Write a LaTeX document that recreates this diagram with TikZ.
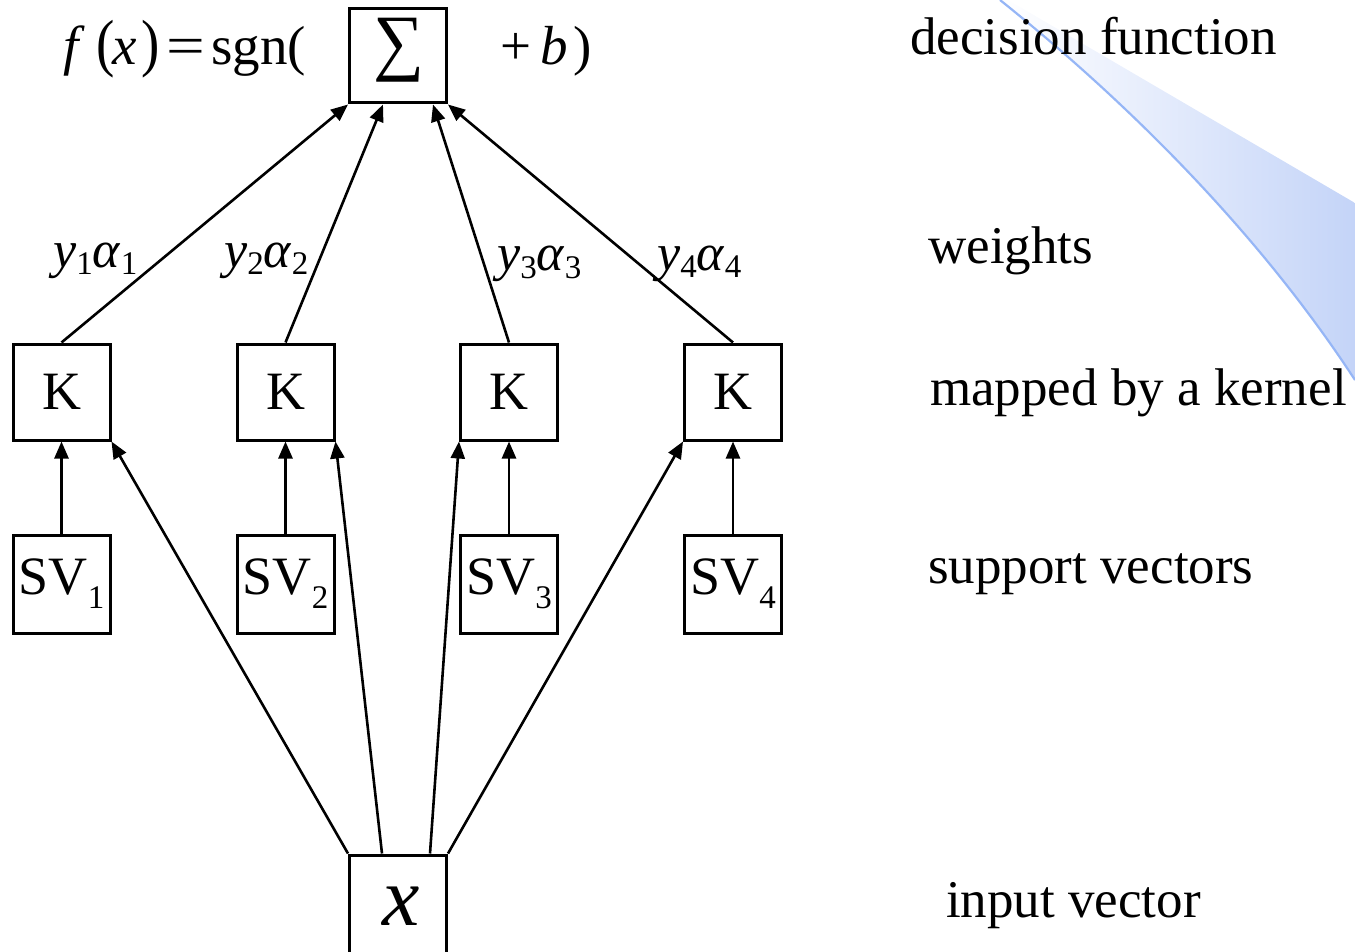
\documentclass[tikz,border=0pt]{standalone}
\usepackage{fontspec}
\setmainfont{Liberation Serif}
\usetikzlibrary{arrows.meta,calc}
\newcommand{\wlab}[1]{\textit{y}\raisebox{-7pt}{\fontsize{33}{33}\selectfont #1}\textit{α}\raisebox{-7pt}{\fontsize{33}{33}\selectfont #1}}
\begin{document}
\begin{tikzpicture}[x=1pt,y=-1pt,
  box/.style={draw,line width=3pt,minimum width=97pt,minimum height=96pt,inner sep=0pt,font=\fontsize{54}{60}\selectfont},
  conn/.style={line width=2.6pt,-{Triangle[length=17pt,width=14pt]}},
  lbl/.style={anchor=base west,inner sep=0pt,font=\fontsize{53}{60}\selectfont},
  wl/.style={anchor=base west,inner sep=0pt,font=\fontsize{52}{60}\selectfont},
  fm/.style={anchor=base west,inner sep=0pt,font=\fontsize{55}{60}\selectfont}]
\useasboundingbox (0,0) rectangle (1355,952);
% decorative swoosh
\shade[left color=white,right color={rgb,255:red,196;green,212;blue,248}]
  (1000,0) -- (1008,0) -- (1355,203) -- (1355,380)
  .. controls (1255,227) and (1120,96) .. (1000,0) -- cycle;
\draw[line width=2.2pt,color={rgb,255:red,150;green,182;blue,246}]
  (1000,0) .. controls (1120,96) and (1255,227) .. (1355,380);
% boxes
\node[box,minimum height=94pt] (S) at (398,56) {};
\node[inner sep=0pt] (sig) at (398.5,50) {\resizebox*{51pt}{64pt}{∑}};
\foreach \i/\xx in {1/61.5,2/285.5,3/509,4/733}{
  \node[box] (K\i) at (\xx,392) {K};
  \node[box,minimum height=98pt] (SV\i) at (\xx,584) {SV\raisebox{-14pt}{\fontsize{33}{33}\selectfont \i}};
}
\node[box,minimum height=100pt] (X) at (398,905) {};
\node[inner sep=0pt,font=\fontsize{84}{90}\selectfont\itshape] (xv) at (401,906) {x};
% connectors
\draw[conn] (K1.north) -- (S.south west);
\draw[conn] (K2.north) -- ([xshift=-15pt]S.south);
\draw[conn] (K3.north) -- ([xshift=35pt]S.south);
\draw[conn] (K4.north) -- (S.south east);
\foreach \i in {1,2,3,4}{\draw[conn] (SV\i.north) -- (K\i.south);}
\draw[conn] (X.north west) -- (K1.south east);
\draw[conn] ([xshift=-16pt]X.north) -- (K2.south east);
\draw[conn] ([xshift=32pt]X.north) -- (K3.south west);
\draw[conn] (X.north east) -- (K4.south west);
% weights
\node[wl] (w1) at (53,268) {\wlab{1}};
\node[wl] (w2) at (224,268) {\wlab{2}};
\node[wl] (w3) at (497,271) {\wlab{3}};
\node[wl] (w4) at (657,270) {\wlab{4}};
% formula
\node[fm] (f1) at (63,65) {\textit{f}};
\node[fm] (f2) at (96,65) {\scalebox{1}[1.16]{(}};
\node[fm] (f3) at (112,65) {\textit{x}};
\node[fm] (f4) at (141,65) {\scalebox{1}[1.16]{)}};
\node[fm] (f5) at (166,65) {\scalebox{1.25}[1]{=}};
\node[fm] (f6) at (211,65) {sgn(};
\node[fm] (f7) at (500,65) {+};
\node[fm] (f8) at (540,65) {\textit{b}};
\node[fm] (f9) at (573,65) {)};
% right labels
\node[lbl] (l1) at (910,55) {decision function};
\node[lbl] (l2) at (928,263) {weights};
\node[lbl] (l3) at (930,405) {mapped by a kernel};
\node[lbl] (l4) at (928,583) {support vectors};
\node[lbl] (l5) at (946,917) {input vector};
\end{tikzpicture}
\end{document}
